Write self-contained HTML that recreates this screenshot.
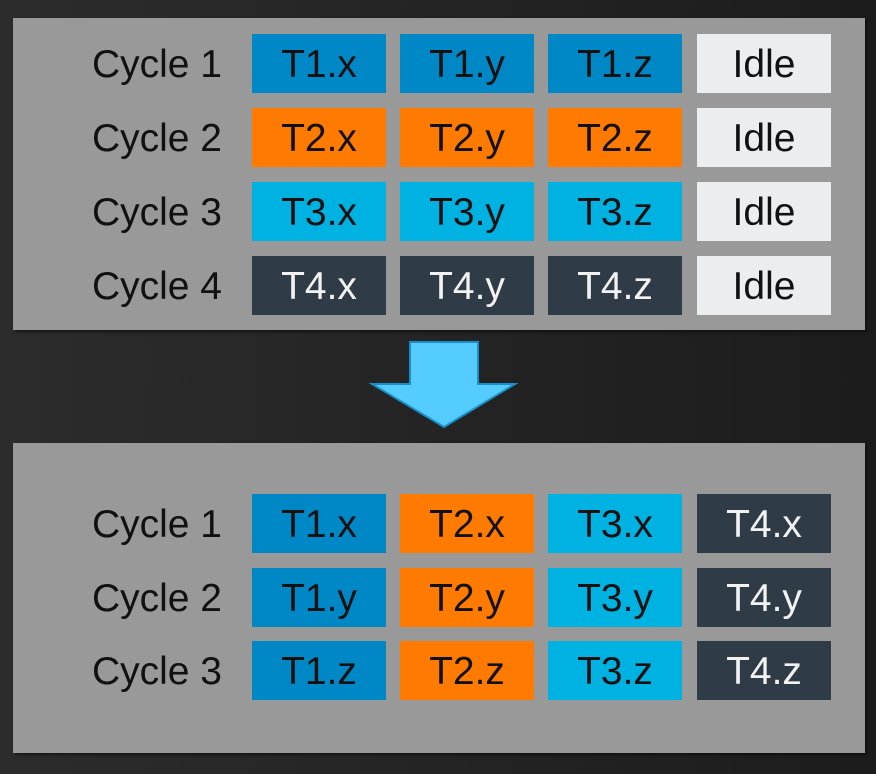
<!DOCTYPE html>
<html><head><style>
html,body{margin:0;padding:0}
body{width:876px;height:774px;background:linear-gradient(90deg,#2c2c2c,#1c1c1c);position:relative;overflow:hidden;font-family:"Liberation Sans",sans-serif}
.p{position:absolute;left:13px;width:852px;background:#999;box-shadow:2px 2px 3px rgba(0,0,0,.5)}
.c{position:absolute;width:134px;height:59px;line-height:61px;text-align:center;font-size:39px;color:#111}
.l{position:absolute;left:20px;width:202px;text-align:right;font-size:39px;height:59px;line-height:61px;color:#111}
.a{background:#0088c6}.o{background:#ff7a00}.b{background:#00b2e2}.d{background:#2f3b46;color:#f2f2f2}.i{background:#ebedee}
</style></head><body>
<div class="p" style="top:18px;height:312px"></div>
<div class="p" style="top:443px;height:310px"></div>
<svg style="position:absolute;left:0;top:0" width="876" height="774">
<polygon points="410,342 478,342 478,384 515,384 444,427 372,384 410,384" fill="#55ccff" stroke="#1a8ec8" stroke-width="2"/>
</svg>
<div class="l" style="top:34px">Cycle 1</div>
<div class="c a" style="left:252px;top:34px">T1.x</div><div class="c a" style="left:400px;top:34px">T1.y</div><div class="c a" style="left:548px;top:34px">T1.z</div><div class="c i" style="left:697px;top:34px">Idle</div>
<div class="l" style="top:108px">Cycle 2</div>
<div class="c o" style="left:252px;top:108px">T2.x</div><div class="c o" style="left:400px;top:108px">T2.y</div><div class="c o" style="left:548px;top:108px">T2.z</div><div class="c i" style="left:697px;top:108px">Idle</div>
<div class="l" style="top:182px">Cycle 3</div>
<div class="c b" style="left:252px;top:182px">T3.x</div><div class="c b" style="left:400px;top:182px">T3.y</div><div class="c b" style="left:548px;top:182px">T3.z</div><div class="c i" style="left:697px;top:182px">Idle</div>
<div class="l" style="top:256px">Cycle 4</div>
<div class="c d" style="left:252px;top:256px">T4.x</div><div class="c d" style="left:400px;top:256px">T4.y</div><div class="c d" style="left:548px;top:256px">T4.z</div><div class="c i" style="left:697px;top:256px">Idle</div>

<div class="l" style="top:494px">Cycle 1</div>
<div class="c a" style="left:252px;top:494px">T1.x</div><div class="c o" style="left:400px;top:494px">T2.x</div><div class="c b" style="left:548px;top:494px">T3.x</div><div class="c d" style="left:697px;top:494px">T4.x</div>
<div class="l" style="top:568px">Cycle 2</div>
<div class="c a" style="left:252px;top:568px">T1.y</div><div class="c o" style="left:400px;top:568px">T2.y</div><div class="c b" style="left:548px;top:568px">T3.y</div><div class="c d" style="left:697px;top:568px">T4.y</div>
<div class="l" style="top:641px">Cycle 3</div>
<div class="c a" style="left:252px;top:641px">T1.z</div><div class="c o" style="left:400px;top:641px">T2.z</div><div class="c b" style="left:548px;top:641px">T3.z</div><div class="c d" style="left:697px;top:641px">T4.z</div>
</body></html>
